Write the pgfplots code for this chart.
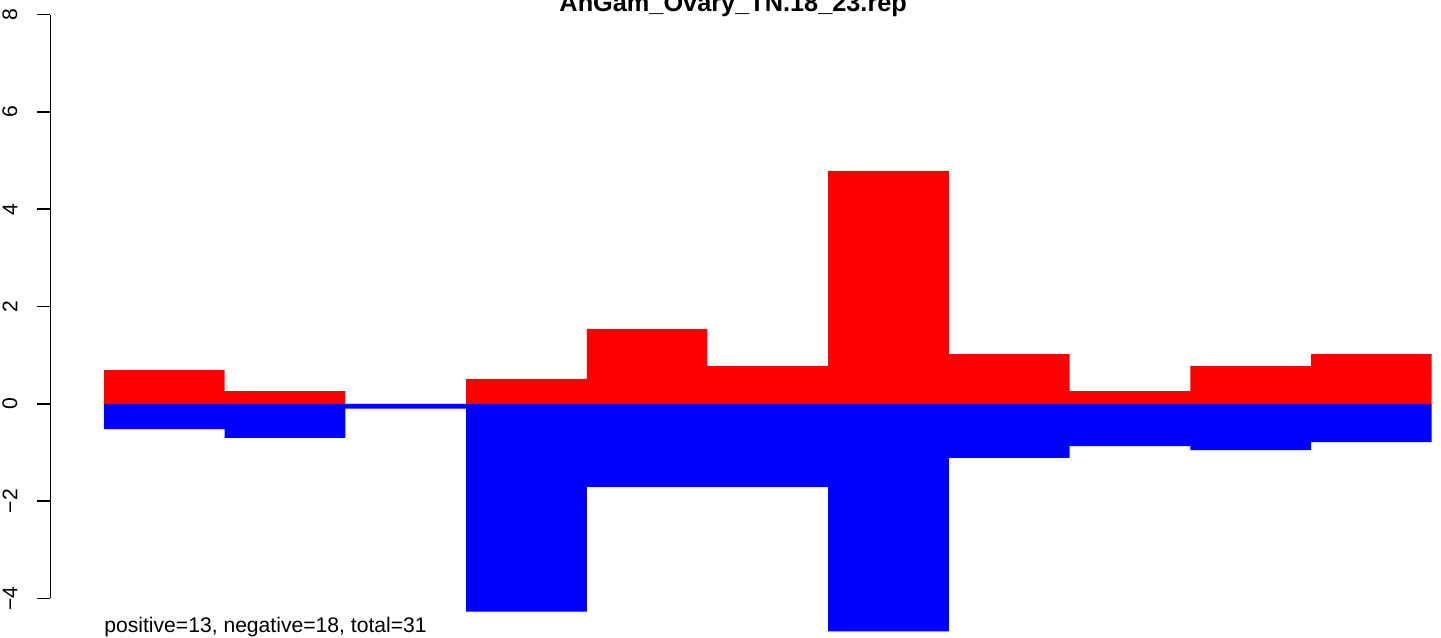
\documentclass[border=0pt]{standalone}
\usepackage{fontspec}
\setmainfont{Liberation Sans}
\usepackage{pgfplots}
\pgfplotsset{compat=1.18}
\definecolor{rred}{RGB}{255,0,0}
\definecolor{rblue}{RGB}{0,0,255}
\begin{document}
\begin{tikzpicture}
\useasboundingbox (-25.25bp,-19.8bp) rectangle (695.25bp,299.2bp);
\clip (-25.25bp,-19.8bp) rectangle (695.25bp,299.2bp);
\begin{axis}[
  scale only axis,
  width=695.25bp, height=291.9bp,
  xmin=-0.443, xmax=11.077,
  ymin=-4, ymax=8,
  axis x line=none,
  axis y line=left,
  axis line style={-, line width=0.8bp, black},
  ytick={-4,-2,0,2,4,6,8},
  yticklabels={−4,−2,0,2,4,6,8},
  tick align=outside,
  major tick length=6.75bp,
  tick style={line width=0.8bp, black},
  yticklabel shift=9.6bp,
  yticklabel style={rotate=90, anchor=south, inner sep=0pt, font=\fontsize{10.6}{12}\selectfont},
  clip=false,
]
\addplot[const plot mark left, fill=rred, draw=none] coordinates {
(0,0.69) (1,0.26) (2,0) (3,0.51) (4,1.54) (5,0.78) (6,4.79) (7,1.02) (8,0.26) (9,0.78) (10,1.02) (11,1.02)
} \closedcycle;
\addplot[const plot mark left, fill=rblue, draw=none] coordinates {
(0,-0.52) (1,-0.70) (2,-0.10) (3,-4.27) (4,-1.71) (5,-1.71) (6,-4.68) (7,-1.11) (8,-0.87) (9,-0.95) (10,-0.79) (11,-0.79)
} \closedcycle;
\node[anchor=base, inner sep=0pt, font=\fontsize{12.7}{14}\selectfont\bfseries] at (axis cs:5.213,8.074) {AnGam\_Ovary\_TN.18\_23.rep};
\node[anchor=base west, inner sep=0pt, font=\fontsize{10.6}{12}\selectfont] at (axis cs:0,-4.711) {positive=13, negative=18, total=31};
\end{axis}
\end{tikzpicture}
\end{document}
